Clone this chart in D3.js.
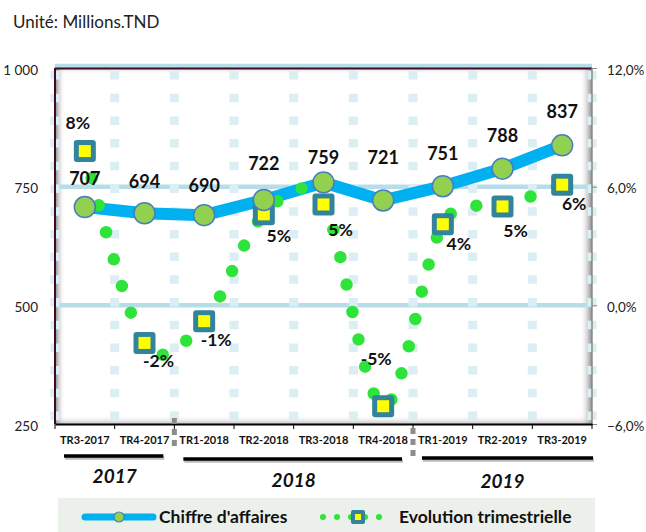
<!DOCTYPE html>
<html>
<head>
<meta charset="utf-8">
<script src="https://cdn.jsdelivr.net/npm/d3@7"></script>
<style>
  body { margin: 0; background: #fff; }
  svg text { font-family: Lato, "Noto Sans", sans-serif; }
</style>
</head>
<body>
<div id="chart"></div>
<script>
// chart data
var categories = ["TR3-2017", "TR4-2017", "TR1-2018", "TR2-2018", "TR3-2018",
  "TR4-2018", "TR1-2019", "TR2-2019", "TR3-2019"];
var chiffre = [707, 694, 690, 722, 759, 721, 751, 788, 837];
var evolution = [7.8, -1.9, -0.8, 4.6, 5.1, -5.1, 4.1, 5.0, 6.1];
var evolutionLabels = ["8%", "-2%", "-1%", "5%", "5%", "-5%", "4%", "5%", "6%"];
var years = ["2017", "2018", "2019"];
var yearFirst = [0, 2, 6], yearLast = [1, 5, 8];
var leftTicks = [250, 500, 750, 1000];
var rightTicks = [-6, 0, 6, 12];

// label nudges (style only)
var chiffreLabelDy = [-22, -25, -23, -30, -18, -36, -26, -27, -27];
var evoLabelDx = [-7, 14, 12, 15, 17, -7, 16, 13, 12];
var evoLabelDy = [-22, 24, 25, 28, 32, -41, 26, 31, 25];

var W = 646, H = 532;
var plot = {left: 55, right: 592, top: 68, bottom: 424};

var svg = d3.select("#chart").append("svg")
  .attr("width", W).attr("height", H);

var defs = svg.append("defs");
function grad(id, x1, y1, x2, y2, c1, o1, c2, o2) {
  var g = defs.append("linearGradient").attr("id", id)
    .attr("x1", x1).attr("y1", y1).attr("x2", x2).attr("y2", y2);
  g.append("stop").attr("offset", "0%").attr("stop-color", c1).attr("stop-opacity", o1);
  g.append("stop").attr("offset", "100%").attr("stop-color", c2).attr("stop-opacity", o2);
}
grad("shL", 0, 0, 1, 0, "#6e6e6e", 0.85, "#ffffff", 0);
grad("shR", 0, 0, 1, 0, "#ffffff", 0, "#7a7a7a", 0.9);
grad("shB", 0, 0, 0, 1, "#ffffff", 0, "#9a9a9a", 0.6);
grad("shT", 0, 0, 0, 1, "#b0b0b0", 0.5, "#ffffff", 0);

// scales
var x = d3.scaleBand().domain(categories).range([plot.left, plot.right]);
var yL = d3.scaleLinear().domain([250, 1000]).range([plot.bottom, plot.top]);
var yR = d3.scaleLinear().domain([-6, 12]).range([plot.bottom, plot.top]);
var cx = function(i) { return x(categories[i]) + x.bandwidth() / 2; };

var locale = d3.formatLocale({decimal: ",", thousands: " ", grouping: [3], currency: ["", ""]});
var fmtL = locale.format(",d"), fmtR = locale.format(".1f");

// title
svg.append("text").attr("x", 13).attr("y", 28)
  .attr("font-size", "17px").attr("fill", "#222")
  .text("Unité: Millions.TND");

// plot area shading (inner shadow)
svg.append("rect").attr("x", plot.left).attr("y", plot.top)
  .attr("width", plot.right - plot.left).attr("height", plot.bottom - plot.top)
  .attr("fill", "#fff");
svg.append("rect").attr("x", plot.left).attr("y", plot.top).attr("width", 10)
  .attr("height", plot.bottom - plot.top).attr("fill", "url(#shL)");
svg.append("rect").attr("x", plot.right - 12).attr("y", plot.top).attr("width", 12)
  .attr("height", plot.bottom - plot.top).attr("fill", "url(#shR)");
svg.append("rect").attr("x", plot.left).attr("y", plot.bottom - 9)
  .attr("width", plot.right - plot.left).attr("height", 9).attr("fill", "url(#shB)");
svg.append("rect").attr("x", plot.left).attr("y", plot.top)
  .attr("width", plot.right - plot.left).attr("height", 7).attr("fill", "url(#shT)");

// horizontal gridlines
svg.append("g").selectAll("line").data([500, 750, 1000]).join("line")
  .attr("x1", plot.left).attr("x2", plot.right)
  .attr("y1", function(d) { return yL(d) - (d == 1000 ? 2 : 0); })
  .attr("y2", function(d) { return yL(d) - (d == 1000 ? 2 : 0); })
  .attr("stroke", "#b7dde8").attr("stroke-width", 4.5);

// vertical dashed gridlines at band boundaries
var bounds = categories.map(function(c) { return x(c); }).concat([plot.right]);
svg.append("g").selectAll("line").data(bounds).join("line")
  .attr("x1", function(d) { return d; }).attr("x2", function(d) { return d; })
  .attr("y1", plot.top + 3).attr("y2", plot.bottom)
  .attr("stroke", "#daeef3").attr("stroke-width", 9)
  .attr("stroke-dasharray", "8.5 14.2");

// axes lines
svg.append("line").attr("x1", plot.left).attr("x2", plot.right)
  .attr("y1", plot.top + 0.5).attr("y2", plot.top + 0.5)
  .attr("stroke", "#3d0c22").attr("stroke-width", 2);
svg.append("line").attr("x1", plot.left).attr("x2", plot.left)
  .attr("y1", plot.top).attr("y2", plot.bottom)
  .attr("stroke", "#3d0c22").attr("stroke-width", 2);
svg.append("line").attr("x1", plot.right).attr("x2", plot.right)
  .attr("y1", plot.top).attr("y2", plot.bottom)
  .attr("stroke", "#8a8a8a").attr("stroke-width", 1.5);

// left axis
var axL = svg.append("g").attr("transform", "translate(" + plot.left + ",0)")
  .call(d3.axisLeft(yL).tickValues(leftTicks).tickFormat(fmtL).tickSize(0).tickPadding(17));
axL.select(".domain").remove();
axL.selectAll("text").attr("font-size", "13.5px").attr("fill", "#222").attr("dy", "0.45em")
  .style("font-family", "Lato, 'Noto Sans', sans-serif");

// right axis
var axR = svg.append("g").attr("transform", "translate(" + plot.right + ",0)")
  .call(d3.axisRight(yR).tickValues(rightTicks)
    .tickFormat(function(d) { return fmtR(d) + "%"; }).tickSize(5).tickPadding(10));
axR.select(".domain").remove();
axR.selectAll("line").attr("stroke", "#888");
axR.selectAll("text").attr("font-size", "13.5px").attr("fill", "#222").attr("dy", "0.45em")
  .style("font-family", "Lato, 'Noto Sans', sans-serif");

// bottom axis
var axB = svg.append("g").attr("transform", "translate(0," + plot.bottom + ")")
  .call(d3.axisBottom(x).tickSize(0).tickPadding(12));
axB.select(".domain").attr("stroke", "#000").attr("stroke-width", 2);
axB.selectAll("text").attr("font-size", "11px").attr("font-weight", "bold").attr("fill", "#111")
  .style("font-family", "Lato, 'Noto Sans', sans-serif");
svg.append("g").selectAll("line").data(bounds).join("line")
  .attr("x1", function(d) { return d; }).attr("x2", function(d) { return d; })
  .attr("y1", plot.bottom).attr("y2", plot.bottom + 5)
  .attr("stroke", "#000").attr("stroke-width", 1);

// year separators
var sepY = [[418, 450], [428, 459]];
[1, 5].forEach(function(i, k) {
  var sx = x(categories[i]) + x.bandwidth();
  svg.append("line").attr("x1", sx).attr("x2", sx)
    .attr("y1", sepY[k][0]).attr("y2", sepY[k][1])
    .attr("stroke", "#8c8c8c").attr("stroke-width", 5).attr("stroke-dasharray", "6 5");
});

// year underlines and labels
var ulY = [456, 459, 458], yrY = [483, 487, 488];
years.forEach(function(yr, k) {
  var x1 = x(categories[yearFirst[k]]) + 9;
  var x2 = x(categories[yearLast[k]]) + x.bandwidth() - (k == 2 ? -1 : 11);
  svg.append("line").attr("x1", x1 + 1).attr("x2", x2 + 1)
    .attr("y1", ulY[k] + 2).attr("y2", ulY[k] + 2)
    .attr("stroke", "#bbb").attr("stroke-width", 3.5);
  svg.append("line").attr("x1", x1).attr("x2", x2).attr("y1", ulY[k]).attr("y2", ulY[k])
    .attr("stroke", "#000").attr("stroke-width", 3.5);
  svg.append("text").attr("x", (x(categories[yearFirst[k]]) + x(categories[yearLast[k]]) + x.bandwidth()) / 2)
    .attr("y", yrY[k]).attr("text-anchor", "middle")
    .attr("font-size", "19px").attr("font-weight", "bold").attr("font-style", "italic")
    .attr("fill", "#111").text(yr);
});

// chiffre d'affaires line
var lineCA = d3.line().x(function(d, i) { return cx(i); }).y(function(d) { return yL(d); });
svg.append("path").datum(chiffre).attr("d", lineCA)
  .attr("fill", "none").attr("stroke", "#00b0f0").attr("stroke-width", 12)
  .attr("stroke-linejoin", "round");

// evolution smoothed dotted line
var lineEvo = d3.line().curve(d3.curveCardinal.tension(0))
  .x(function(d, i) { return cx(i); }).y(function(d) { return yR(d); });
svg.append("path").datum(evolution).attr("d", lineEvo)
  .attr("fill", "none").attr("stroke", "#2ee33a").attr("stroke-width", 12.5)
  .attr("stroke-linecap", "round").attr("stroke-dasharray", "0 28");

// evolution markers
var sq = svg.append("g").selectAll("g").data(evolution).join("g")
  .attr("transform", function(d, i) { return "translate(" + cx(i) + "," + yR(d) + ")"; });
sq.append("rect").attr("x", -11).attr("y", -11).attr("width", 22).attr("height", 22)
  .attr("rx", 3).attr("fill", "#31849b");
sq.append("rect").attr("x", -6).attr("y", -6).attr("width", 12).attr("height", 12)
  .attr("fill", "#ffff00");

// chiffre markers
svg.append("g").selectAll("circle").data(chiffre).join("circle")
  .attr("cx", function(d, i) { return cx(i); }).attr("cy", function(d) { return yL(d); })
  .attr("r", 10.5).attr("fill", "#92d050").attr("stroke", "#4a7ebb").attr("stroke-width", 1.5);

// labels
svg.append("g").selectAll("text").data(chiffre).join("text")
  .attr("x", function(d, i) { return cx(i); })
  .attr("y", function(d, i) { return yL(d) + chiffreLabelDy[i]; })
  .attr("text-anchor", "middle").attr("font-size", "18px").attr("font-weight", "bold")
  .attr("fill", "#111").text(function(d) { return d; });

svg.append("g").selectAll("text").data(evolution).join("text")
  .attr("x", function(d, i) { return cx(i) + evoLabelDx[i]; })
  .attr("y", function(d, i) { return yR(d) + evoLabelDy[i]; })
  .attr("text-anchor", "middle").attr("font-size", "17.5px").attr("font-weight", "bold")
  .attr("fill", "#111").text(function(d, i) { return evolutionLabels[i]; });

// legend
var lg = svg.append("g");
lg.append("rect").attr("x", 58).attr("y", 498).attr("width", 537).attr("height", 40)
  .attr("fill", "#ebf1ea");
lg.append("line").attr("x1", 85).attr("x2", 153).attr("y1", 517).attr("y2", 517)
  .attr("stroke", "#00b0f0").attr("stroke-width", 7).attr("stroke-linecap", "round");
lg.append("circle").attr("cx", 119).attr("cy", 517).attr("r", 5)
  .attr("fill", "#92d050").attr("stroke", "#4a7ebb").attr("stroke-width", 1.2);
lg.append("text").attr("x", 159).attr("y", 523).attr("font-size", "17.5px")
  .attr("font-weight", "bold").attr("fill", "#111").text("Chiffre d'affaires");
lg.append("line").attr("x1", 323).attr("x2", 380).attr("y1", 517).attr("y2", 517)
  .attr("stroke", "#2ee33a").attr("stroke-width", 6).attr("stroke-linecap", "round")
  .attr("stroke-dasharray", "0 14");
lg.append("rect").attr("x", 351).attr("y", 510).attr("width", 14).attr("height", 14)
  .attr("rx", 2).attr("fill", "#31849b");
lg.append("rect").attr("x", 355).attr("y", 514).attr("width", 6).attr("height", 6)
  .attr("fill", "#ffff00");
lg.append("text").attr("x", 399).attr("y", 523).attr("font-size", "17.5px")
  .attr("font-weight", "bold").attr("fill", "#111").text("Evolution trimestrielle");
</script>
</body>
</html>
